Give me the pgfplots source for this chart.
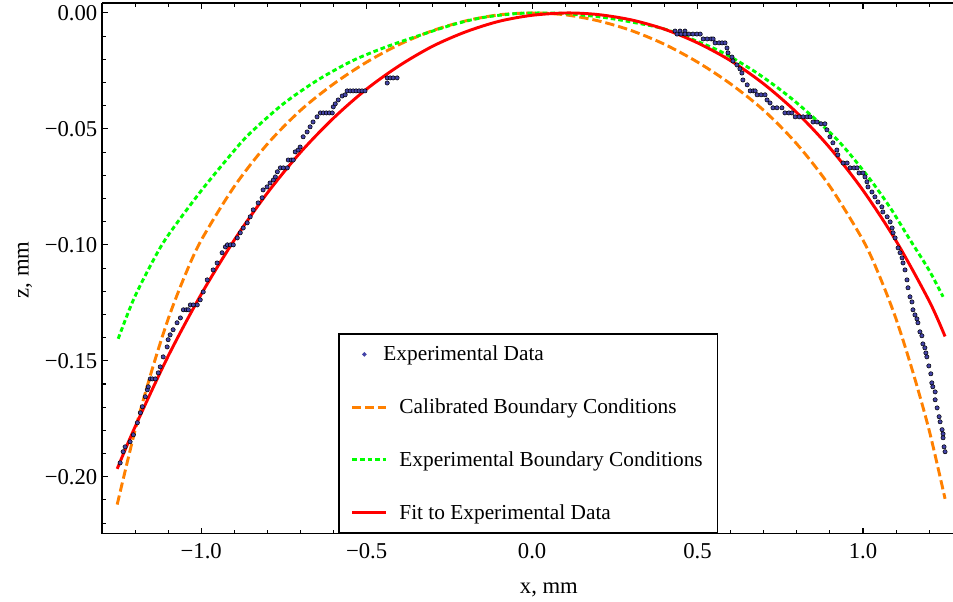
\documentclass[border=0pt]{standalone}
\usepackage{pgfplots}
\pgfplotsset{compat=1.18}
\usepackage{fontspec}
\setmainfont{Liberation Serif}
\definecolor{datablue}{RGB}{68,68,168}
\definecolor{calorange}{RGB}{255,128,0}
\definecolor{expgreen}{RGB}{0,255,0}
\definecolor{fitred}{RGB}{255,0,0}

\pgfplotstableread{
x z
-1.245 -0.1940
-1.236 -0.1892
-1.230 -0.1871
-1.215 -0.1849
-1.205 -0.1819
-1.193 -0.1767
-1.184 -0.1724
-1.178 -0.1698
-1.169 -0.1655
-1.163 -0.1625
-1.160 -0.1612
-1.154 -0.1578
-1.148 -0.1578
-1.139 -0.1578
-1.130 -0.1552
-1.124 -0.1526
-1.115 -0.1483
-1.103 -0.1440
-1.100 -0.1409
-1.094 -0.1388
-1.085 -0.1366
-1.073 -0.1336
-1.063 -0.1315
-1.054 -0.1280
-1.045 -0.1280
-1.039 -0.1280
-1.033 -0.1259
-1.024 -0.1259
-1.012 -0.1259
-1.003 -0.1237
-0.994 -0.1203
-0.982 -0.1151
-0.964 -0.1108
-0.952 -0.1078
-0.937 -0.1034
-0.927 -0.1009
-0.921 -0.1000
-0.912 -0.1000
-0.903 -0.1000
-0.891 -0.0970
-0.882 -0.0948
-0.873 -0.0927
-0.861 -0.0905
-0.852 -0.0879
-0.843 -0.0849
-0.828 -0.0819
-0.816 -0.0797
-0.813 -0.0763
-0.801 -0.0750
-0.792 -0.0733
-0.782 -0.0720
-0.776 -0.0707
-0.770 -0.0685
-0.761 -0.0668
-0.752 -0.0668
-0.740 -0.0668
-0.737 -0.0634
-0.728 -0.0634
-0.722 -0.0634
-0.716 -0.0599
-0.707 -0.0591
-0.701 -0.0578
-0.692 -0.0534
-0.680 -0.0513
-0.671 -0.0491
-0.662 -0.0470
-0.650 -0.0448
-0.640 -0.0431
-0.631 -0.0431
-0.622 -0.0431
-0.613 -0.0431
-0.604 -0.0431
-0.601 -0.0405
-0.595 -0.0392
-0.586 -0.0375
-0.574 -0.0358
-0.565 -0.0353
-0.559 -0.0336
-0.550 -0.0336
-0.541 -0.0336
-0.532 -0.0336
-0.523 -0.0336
-0.514 -0.0336
-0.505 -0.0336
-0.438 -0.0302
-0.438 -0.0280
-0.429 -0.0280
-0.420 -0.0280
-0.408 -0.0280
0.432 -0.0078
0.447 -0.0078
0.462 -0.0078
0.438 -0.0091
0.450 -0.0091
0.462 -0.0091
0.474 -0.0091
0.486 -0.0091
0.498 -0.0091
0.508 -0.0091
0.517 -0.0112
0.529 -0.0112
0.541 -0.0112
0.547 -0.0112
0.553 -0.0129
0.565 -0.0129
0.574 -0.0129
0.583 -0.0129
0.589 -0.0151
0.592 -0.0172
0.604 -0.0190
0.607 -0.0207
0.619 -0.0224
0.628 -0.0241
0.634 -0.0259
0.637 -0.0289
0.650 -0.0310
0.659 -0.0336
0.668 -0.0336
0.674 -0.0336
0.680 -0.0353
0.692 -0.0353
0.704 -0.0353
0.710 -0.0375
0.719 -0.0388
0.728 -0.0409
0.740 -0.0409
0.755 -0.0409
0.764 -0.0431
0.776 -0.0431
0.785 -0.0431
0.795 -0.0448
0.807 -0.0448
0.819 -0.0448
0.831 -0.0448
0.840 -0.0448
0.849 -0.0470
0.861 -0.0470
0.873 -0.0478
0.885 -0.0478
0.891 -0.0504
0.900 -0.0534
0.909 -0.0560
0.921 -0.0591
0.924 -0.0612
0.940 -0.0647
0.952 -0.0647
0.961 -0.0668
0.973 -0.0668
0.982 -0.0668
0.988 -0.0690
1.000 -0.0690
1.006 -0.0707
1.012 -0.0728
1.015 -0.0750
1.027 -0.0772
1.036 -0.0793
1.045 -0.0815
1.057 -0.0836
1.060 -0.0858
1.073 -0.0879
1.082 -0.0901
1.088 -0.0927
1.091 -0.0948
1.097 -0.0970
1.106 -0.1013
1.112 -0.1034
1.118 -0.1056
1.121 -0.1078
1.127 -0.1108
1.133 -0.1151
1.136 -0.1185
1.142 -0.1224
1.148 -0.1246
1.151 -0.1280
1.157 -0.1302
1.163 -0.1319
1.166 -0.1336
1.172 -0.1375
1.178 -0.1392
1.181 -0.1427
1.187 -0.1444
1.190 -0.1466
1.193 -0.1483
1.199 -0.1522
1.205 -0.1556
1.208 -0.1595
1.211 -0.1612
1.218 -0.1634
1.218 -0.1668
1.224 -0.1703
1.230 -0.1741
1.233 -0.1763
1.239 -0.1797
1.242 -0.1815
1.242 -0.1832
1.245 -0.1871
1.248 -0.1892
}\expdata

\pgfplotstableread{
x z
-1.254 -0.2120
-1.200 -0.1800
-1.150 -0.1545
-1.100 -0.1320
-1.050 -0.1135
-1.000 -0.0980
-0.900 -0.0748
-0.800 -0.0565
-0.700 -0.0420
-0.600 -0.0306
-0.500 -0.0212
-0.400 -0.0135
-0.300 -0.0076
-0.200 -0.0034
-0.100 -0.0008
0.000 0.0000
0.100 -0.0008
0.200 -0.0034
0.300 -0.0076
0.400 -0.0135
0.500 -0.0212
0.600 -0.0306
0.700 -0.0420
0.800 -0.0565
0.900 -0.0748
1.000 -0.0980
1.050 -0.1135
1.100 -0.1320
1.150 -0.1545
1.200 -0.1800
1.248 -0.2095
}\calib

\pgfplotstableread{
x z
-1.251 -0.1405
-1.205 -0.1237
-1.150 -0.1080
-1.103 -0.0965
-1.003 -0.0772
-0.903 -0.0598
-0.852 -0.0518
-0.752 -0.0392
-0.650 -0.0291
-0.550 -0.0211
-0.475 -0.0165
-0.399 -0.0125
-0.248 -0.0054
-0.150 -0.0020
-0.050 -0.0003
0.020 0.0000
0.100 -0.0003
0.205 -0.0017
0.300 -0.0039
0.408 -0.0073
0.559 -0.0159
0.659 -0.0240
0.735 -0.0315
0.810 -0.0400
0.921 -0.0545
1.012 -0.0700
1.080 -0.0835
1.142 -0.0978
1.200 -0.1110
1.242 -0.1224
}\expbc

\pgfplotstableread{
x z
-1.254 -0.1966
-1.200 -0.1785
-1.100 -0.1480
-1.000 -0.1213
-0.900 -0.0979
-0.800 -0.0776
-0.700 -0.0601
-0.600 -0.0453
-0.500 -0.0328
-0.400 -0.0226
-0.300 -0.0143
-0.200 -0.0081
-0.100 -0.0036
0.000 -0.0010
0.106 0.0000
0.200 -0.0007
0.300 -0.0030
0.400 -0.0070
0.500 -0.0129
0.600 -0.0206
0.700 -0.0306
0.800 -0.0430
0.900 -0.0582
1.000 -0.0765
1.100 -0.0983
1.200 -0.1242
1.248 -0.1395
}\fit

\begin{document}
\begin{tikzpicture}
\begin{axis}[
  scale only axis,
  width=645.45pt, height=398.25pt,
  xmin=-1.3, xmax=1.3,
  ymin=-0.2246, ymax=0.0043,
  axis x line*=box, axis y line*=left,
  axis line style={-, line width=1pt, black},
  tick align=inside,
  major tick length=4.5pt, minor tick length=2.7pt,
  every tick/.style={black, line width=0.8pt},
  xtick={-1,-0.5,0,0.5,1},
  xticklabels={−1.0,−0.5,0.0,0.5,1.0},
  minor xtick={-1.2,-1.1,-0.9,-0.8,-0.7,-0.6,-0.4,-0.3,-0.2,-0.1,0.1,0.2,0.3,0.4,0.6,0.7,0.8,0.9,1.1,1.2},
  ytick={-0.2,-0.15,-0.1,-0.05,0},
  yticklabels={−0.20,−0.15,−0.10,−0.05,0.00},
  minor ytick={-0.22,-0.21,-0.19,-0.18,-0.17,-0.16,-0.14,-0.13,-0.12,-0.11,-0.09,-0.08,-0.07,-0.06,-0.04,-0.03,-0.02,-0.01},
  tick label style={font=\fontsize{17}{20}\selectfont},
  xticklabel style={yshift=-4pt},
  xlabel={x, mm}, ylabel={z, mm},
  every axis x label/.style={at={(axis description cs:0.5195,-0.1055)}, anchor=center, font=\fontsize{17}{20}\selectfont},
  every axis y label/.style={at={(axis description cs:-0.0895,0.497)}, anchor=center, rotate=90, font=\fontsize{17}{20}\selectfont},
  legend cell align=left,
  legend style={at={(axis cs:-0.586,-0.2246)}, anchor=south west, draw=black, line width=1pt, fill=white,
    inner xsep=9pt, inner ysep=7pt, row sep=23pt, column sep=6.75pt, font=\fontsize{16}{19}\selectfont},
]
\addplot[only marks, mark=*, mark size=1.6pt, mark options={draw=none, fill=datablue},
  legend image code/.code={\fill[datablue] (9pt,0pt) circle (1.1pt);}] table[x=x,y=z] {\expdata};
\addlegendentry{\hspace*{-12pt}Experimental Data}
\addplot[calorange, line width=2.2pt, dash pattern=on 7pt off 3pt, smooth,
  legend image code/.code={\draw[calorange, line width=2.2pt, dash pattern=on 6.5pt off 3pt] (0pt,0pt) -- (25.5pt,0pt);}] table[x=x,y=z] {\calib};
\addlegendentry{Calibrated Boundary Conditions}
\addplot[expgreen, line width=2.2pt, dash pattern=on 3.5pt off 2.2pt, smooth, tension=0.5,
  legend image code/.code={\draw[expgreen, line width=2.2pt, dash pattern=on 3.7pt off 2pt] (0pt,0pt) -- (25.5pt,0pt);}] table[x=x,y=z] {\expbc};
\addlegendentry{Experimental Boundary Conditions}
\addplot[fitred, line width=2.2pt, smooth,
  legend image code/.code={\draw[fitred, line width=2.2pt] (0pt,0pt) -- (25.5pt,0pt);}] table[x=x,y=z] {\fit};
\addlegendentry{Fit to Experimental Data}
\coordinate (sw) at (rel axis cs:0,0);
\coordinate (ne) at (axis cs:1.272,0.0043);
\end{axis}
\pgfresetboundingbox
\path ([xshift=-76.5pt,yshift=-51pt]sw) rectangle ([yshift=2.25pt]ne);
\end{tikzpicture}
\end{document}
